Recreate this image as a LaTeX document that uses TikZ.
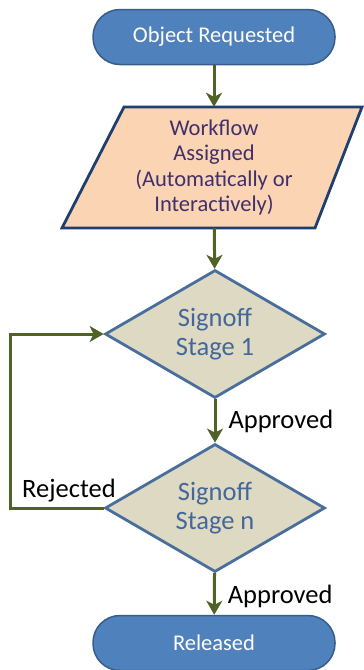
\documentclass[tikz,border=0pt]{standalone}
\usepackage{fontspec}
\setmainfont{Carlito}
\usetikzlibrary{shapes.geometric,arrows.meta}
\definecolor{termfill}{HTML}{4F81BD}
\definecolor{termdraw}{HTML}{385D8A}
\definecolor{parafill}{HTML}{FBD4B4}
\definecolor{paradraw}{HTML}{1F3F6F}
\definecolor{paratext}{HTML}{40306A}
\definecolor{diafill}{HTML}{DDD9C3}
\definecolor{diadraw}{HTML}{4A6E9C}
\definecolor{diatext}{HTML}{44679A}
\definecolor{arrowc}{HTML}{4F6228}
\tikzset{
  term/.style={draw=termdraw, fill=termfill, line width=1.5pt, rounded corners=27pt,
    minimum width=242pt, minimum height=55pt, text=white, font=\fontsize{22.5}{25}\selectfont},
  decision/.style={diamond, draw=diadraw, fill=diafill, line width=2.8pt, aspect=1.72,
    minimum width=220pt, minimum height=128pt, inner sep=0pt, text=diatext, align=center,
    font=\fontsize{26.5}{28.5}\selectfont},
  flow/.style={draw=arrowc, line width=3pt, -{Stealth[length=14pt,width=16pt,inset=4pt]}},
  lbl/.style={text=black, font=\fontsize{26.5}{28}\selectfont, inner sep=0pt}
}
\begin{document}
\begin{tikzpicture}[x=1pt,y=-1pt]
\useasboundingbox (0,0) rectangle (364,670);
\node[term] (req) at (214,37) {Object Requested};
\filldraw[fill=parafill, draw=paradraw, line width=2.8pt, line join=miter]
  (124,107) -- (362,107) -- (315,228) -- (62,228) -- cycle;
\node[minimum width=240pt, minimum height=121pt, inner sep=0pt, align=center,
  text=paratext, font=\fontsize{22.5}{25.5}\selectfont] (wf) at (214,167.5)
  {Workflow\\Assigned\\(Automatically or\\Interactively)};
\node[decision] (s1) at (215,334) {Signoff\\Stage 1};
\node[decision] (sn) at (215,508) {Signoff\\Stage n};
\node[term] (rel) at (214,643) {Released};
\coordinate (lx) at (10,0);
\draw[flow] (req) -- (wf);
\draw[flow] (wf) -- (s1);
\draw[flow] (s1) -- node[lbl, anchor=west, xshift=12pt]{Approved} (sn);
\draw[flow] (sn) -- node[lbl, anchor=west, xshift=12pt, yshift=-2pt]{Approved} (rel);
\draw[flow] (sn.west) -- (sn.west -| lx) |- (s1.west);
\node[lbl, anchor=base west] (rej) at (22,497) {Rejected};
\end{tikzpicture}
\end{document}
